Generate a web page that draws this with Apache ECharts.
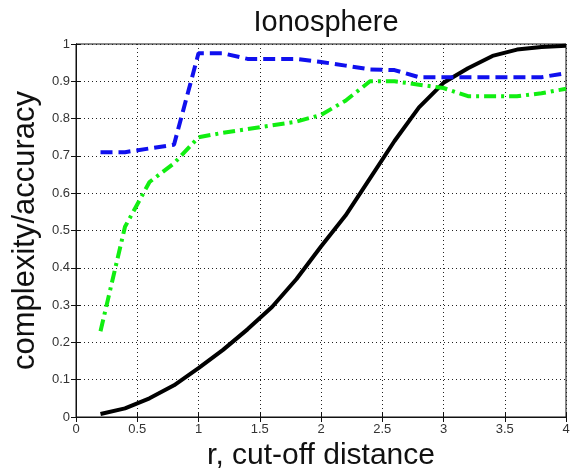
<!DOCTYPE html>
<html><head><meta charset="utf-8">
<script src="https://cdn.jsdelivr.net/npm/echarts@6/dist/echarts.min.js"></script>
<style>html,body{margin:0;padding:0;background:#fff}#c{width:574px;height:471px}</style>
</head><body><div id="c"></div>
<script>
var rValues = [0.2,0.4,0.6,0.8,1.0,1.2,1.4,1.6,1.8,2.0,2.2,2.4,2.6,2.8,3.0,3.2,3.4,3.6,3.8,4.0];
var blueSeries = [0.71,0.71,0.72,0.73,0.975,0.975,0.96,0.96,0.96,0.952,0.942,0.932,0.93,0.911,0.911,0.911,0.911,0.911,0.911,0.922];
var greenSeries = [0.23,0.51,0.63,0.68,0.75,0.762,0.772,0.782,0.792,0.81,0.848,0.9,0.9,0.891,0.882,0.86,0.86,0.86,0.868,0.88];
var blackSeries = [0.008,0.023,0.05,0.085,0.131,0.18,0.235,0.295,0.37,0.457,0.54,0.64,0.74,0.83,0.896,0.935,0.968,0.985,0.992,0.995];
var xTicks = {min:0,max:4,interval:0.5};
var yTicks = {min:0,max:1,interval:0.1};

function pairs(ys){return rValues.map(function(x,i){return [x,ys[i]];});}
var font = 'Liberation Sans, Arial, sans-serif';
var chart = echarts.init(document.getElementById('c'));
var baseX = {type:'value',min:xTicks.min,max:xTicks.max,interval:xTicks.interval};
var baseY = {type:'value',min:yTicks.min,max:yTicks.max,interval:yTicks.interval};
chart.setOption({
  animation:false,
  backgroundColor:'#fff',
  title:{text:'Ionosphere',left:321,textAlign:'center',top:3,textStyle:{fontFamily:font,fontSize:29,fontWeight:'normal',color:'#111'}},
  grid:{left:76,right:8,top:44,bottom:54,show:true,borderColor:'#111',borderWidth:1,outerBoundsMode:'none',containLabel:false},
  xAxis:[Object.assign({},baseX,{position:'bottom',
    name:'r, cut-off distance',nameLocation:'middle',nameGap:24,
    nameTextStyle:{fontFamily:font,fontSize:30,color:'#111'},
    axisLine:{show:true,lineStyle:{color:'#111'}},
    axisTick:{inside:true,length:5,lineStyle:{color:'#111'}},
    axisLabel:{fontFamily:font,fontSize:13,color:'#333',margin:6},
    splitLine:{show:true,lineStyle:{color:'#222',type:[1,3],width:1}}}),
    Object.assign({},baseX,{position:'top',axisLine:{show:true,lineStyle:{color:'#111'}},
    axisTick:{inside:true,length:5,lineStyle:{color:'#111'}},axisLabel:{show:false},splitLine:{show:false}})],
  yAxis:[Object.assign({},baseY,{position:'left',
    name:'complexity/accuracy',nameLocation:'middle',nameGap:32,
    nameTextStyle:{fontFamily:font,fontSize:31,color:'#111'},
    axisLine:{show:true,lineStyle:{color:'#111'}},
    axisTick:{inside:true,length:5,lineStyle:{color:'#111'}},
    axisLabel:{fontFamily:font,fontSize:13,color:'#333',margin:6},
    splitLine:{show:true,lineStyle:{color:'#222',type:[1,3],width:1}}}),
    Object.assign({},baseY,{position:'right',axisLine:{show:true,lineStyle:{color:'#111'}},
    axisTick:{inside:true,length:5,lineStyle:{color:'#111'}},axisLabel:{show:false},splitLine:{show:false}})],
  series:[
    {type:'line',data:pairs(blackSeries),showSymbol:false,lineStyle:{color:'#000',width:4}},
    {type:'line',data:pairs(greenSeries),showSymbol:false,lineStyle:{color:'#11ee11',width:4,type:[12,5,3,5]}},
    {type:'line',data:pairs(blueSeries),showSymbol:false,lineStyle:{color:'#1010ee',width:4,type:[12,6]}}
  ]
});
</script></body></html>
